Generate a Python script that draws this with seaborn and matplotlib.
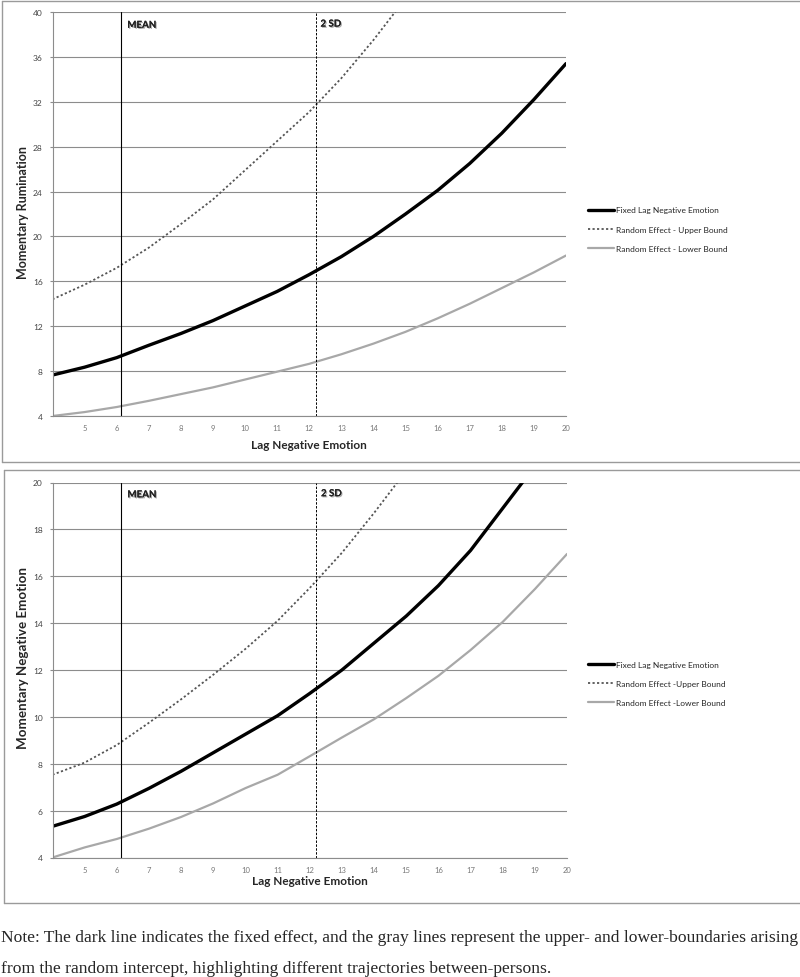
import matplotlib
matplotlib.use("Agg")
import matplotlib.pyplot as plt
import matplotlib.patheffects as pe
from matplotlib.lines import Line2D
import seaborn as sns

# values at integer lag values
lag_x = list(range(4, 21))

rum_fixed = [7.65, 8.35, 9.2, 10.3, 11.35, 12.5, 13.8, 15.1, 16.6, 18.2, 20.0,
             22.0, 24.1, 26.5, 29.2, 32.2, 35.4]
rum_upper = [14.4, 15.7, 17.2, 19.0, 21.1, 23.3, 25.9, 28.5, 31.1, 34.1, 37.5, 41.2]
rum_lower = [4.0, 4.35, 4.8, 5.35, 5.95, 6.55, 7.25, 7.95, 8.65, 9.5, 10.45,
             11.5, 12.7, 14.0, 15.4, 16.8, 18.3]

neg_fixed = [5.33, 5.75, 6.28, 6.95, 7.68, 8.47, 9.26, 10.05, 11.0, 12.0, 13.15,
             14.3, 15.6, 17.1, 18.9, 20.7]
neg_upper = [7.53, 8.05, 8.8, 9.75, 10.75, 11.8, 12.9, 14.1, 15.5, 17.0, 18.7, 20.5]
neg_lower = [4.0, 4.43, 4.79, 5.23, 5.73, 6.31, 6.96, 7.53, 8.32, 9.12, 9.9,
             10.8, 11.75, 12.85, 14.05, 15.45, 16.95]

mean_x = 6.13
sd2_x = 12.2

x_ticks = list(range(5, 21))
rum_yticks = list(range(4, 41, 4))
neg_yticks = list(range(4, 21, 2))

top_legend = ["Fixed Lag Negative Emotion", "Random Effect - Upper Bound",
              "Random Effect - Lower Bound"]
bot_legend = ["Fixed Lag Negative Emotion", "Random Effect -Upper Bound",
              "Random Effect -Lower Bound"]

note_lines = [
    "Note: The dark line indicates the fixed effect, and the gray lines represent "
    "the upper- and lower-boundaries arising",
    "from the random intercept, highlighting different trajectories between-persons.",
]

sns.set_style("white")
plt.rcParams["font.family"] = ["Lato", "DejaVu Sans"]

W, H = 800, 978
fig = plt.figure(figsize=(8, 9.78), dpi=100)


def fx(px):
    return px / W


def fy(py):
    return 1 - py / H


def panel(rect, fixed, upper, lower, ylim, yticks, ylabel, ylab_size, ylab_y,
          labels, leg_top, xlab_y):
    ax = fig.add_axes(rect)
    sns.lineplot(x=lag_x[:len(fixed)], y=fixed, ax=ax, color="black", lw=2.4,
                 label=labels[0])
    sns.lineplot(x=lag_x[:len(upper)], y=upper, ax=ax, color="#555555", lw=1.3,
                 linestyle=(0, (1.2, 1.3)), label=labels[1])
    sns.lineplot(x=lag_x[:len(lower)], y=lower, ax=ax, color="#a8a8a8", lw=1.6,
                 label=labels[2])
    ax.axvline(mean_x, color="black", lw=0.8)
    ax.axvline(sd2_x, color="black", lw=0.7, linestyle=(0, (2.5, 1.5)))
    ax.set_xlim(4, 20)
    ax.set_ylim(*ylim)
    ax.set_xticks(x_ticks)
    ax.set_yticks(yticks)
    ax.yaxis.grid(True, color="#8c8c8c", lw=0.8)
    ax.set_axisbelow(True)
    for s in ["top", "right"]:
        ax.spines[s].set_visible(False)
    for s in ["left", "bottom"]:
        ax.spines[s].set_color("#8c8c8c")
        ax.spines[s].set_linewidth(0.8)
    ax.tick_params(axis="y", labelsize=6, colors="#8c8c8c", labelcolor="#444444",
                   length=2, pad=5, left=True)
    ax.tick_params(axis="x", labelsize=5.5, labelcolor="#777777", length=0, pad=6)
    ax.set_xlabel("Lag Negative Emotion", fontsize=8.5, fontweight="bold")
    ax.xaxis.set_label_coords(0.5, xlab_y)
    ax.set_ylabel(ylabel, fontsize=ylab_size, fontweight="bold")
    ax.yaxis.set_label_coords(-0.046, ylab_y)
    shadow = [pe.withSimplePatchShadow(offset=(0.8, -0.8), alpha=0.35), pe.Normal()]
    tr = ax.get_xaxis_transform()
    ax.text(mean_x + 0.2, 0.967, "MEAN", transform=tr, fontsize=7, fontweight="bold",
            va="center", color="#222222", path_effects=shadow)
    ax.text(sd2_x + 0.15, 0.970, "2 SD", transform=tr, fontsize=7, fontweight="bold",
            va="center", color="#222222", path_effects=shadow)
    ax.legend(loc="upper left", bbox_to_anchor=(fx(588), fy(leg_top)),
              bbox_transform=fig.transFigure, frameon=False, fontsize=6,
              handlelength=3.1, handletextpad=0.25, labelspacing=1.45,
              borderpad=0, borderaxespad=0)
    return ax


panel([fx(52.5), fy(417), fx(566 - 52.5), (417 - 13) / H],
      rum_fixed, rum_upper, rum_lower, (4, 40), rum_yticks,
      "Momentary Rumination", 9, 0.505, top_legend, 207.5, -0.058)
panel([fx(52.5), fy(858.5), fx(567 - 52.5), (858.5 - 483.5) / H],
      neg_fixed, neg_upper, neg_lower, (4, 20), neg_yticks,
      "Momentary Negative Emotion", 9.6, 0.535, bot_legend, 662, -0.048)

# frames around the two panels
frame_kw = dict(color="#9a9a9a", lw=1.0, transform=fig.transFigure)
for top, bottom, left in [(1.5, 463, 1.5), (471, 904, 3.5)]:
    fig.add_artist(Line2D([fx(left), 1.01], [fy(top), fy(top)], **frame_kw))
    fig.add_artist(Line2D([fx(left), 1.01], [fy(bottom), fy(bottom)], **frame_kw))
    fig.add_artist(Line2D([fx(left), fx(left)], [fy(top), fy(bottom)], **frame_kw))

for line, py in zip(note_lines, [938, 969]):
    fig.text(fx(1), fy(py), line, fontsize=12.6, va="center", ha="left",
             family=["Liberation Serif", "DejaVu Serif"])

fig.savefig("out.png", dpi=100)
